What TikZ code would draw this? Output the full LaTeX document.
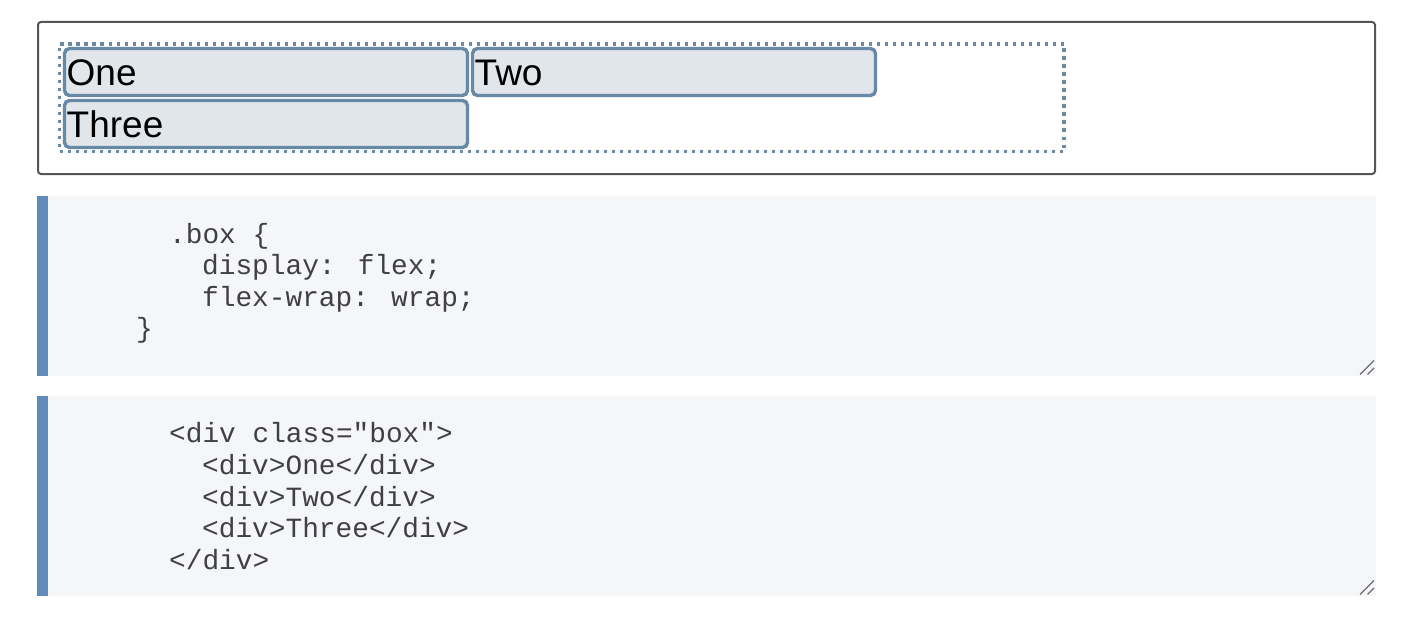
\documentclass[tikz,border=0pt]{standalone}
\usepackage{fontspec}
\setmainfont{Liberation Sans}
\newfontfamily\codefont{Liberation Mono}
\definecolor{outerline}{RGB}{85,85,88}
\definecolor{dotline}{RGB}{107,138,165}
\definecolor{itemline}{RGB}{104,137,166}
\definecolor{itemfill}{RGB}{225,230,235}
\definecolor{codebg}{RGB}{245,246,248}
\definecolor{codebar}{RGB}{97,139,187}
\definecolor{codetext}{RGB}{64,64,66}
\definecolor{gripcol}{RGB}{110,110,112}
\tikzset{
  outerbox/.style={draw=outerline, line width=2pt, rounded corners=3pt, inner sep=0pt, outer sep=0pt, anchor=north west},
  flexbox/.style={draw=dotline, line width=3.5pt, dash pattern=on 3.5pt off 4.5pt, inner sep=0pt, outer sep=0pt, anchor=north west},
  itembox/.style={draw=itemline, fill=itemfill, line width=3.4pt, rounded corners=5pt, inner sep=0pt, outer sep=0pt, anchor=north west, minimum width=403pt, minimum height=47pt},
  itemtext/.style={inner sep=0pt, anchor=base west, font=\fontsize{37}{37}\selectfont, text=black},
  codebox/.style={fill=codebg, inner sep=0pt, outer sep=0pt, anchor=north west, minimum width=1339pt},
  barbox/.style={fill=codebar, inner sep=0pt, outer sep=0pt, anchor=north west, minimum width=11pt},
  codeline/.style={inner sep=0pt, anchor=base west, font=\codefont\fontsize{27.8}{27.8}\selectfont, text=codetext},
  grip/.style={draw=gripcol, line width=1.3pt}
}
\begin{document}
\begin{tikzpicture}[x=1pt,y=-1pt]
\useasboundingbox (0,0) rectangle (1408,626);
\fill[white] (0,0) rectangle (1408,626);

% rendered flex box
\node[outerbox, minimum width=1337pt, minimum height=152pt] (outer) at (38,22) {};
\node[flexbox, minimum width=1004.5pt, minimum height=107.5pt] (flex) at (59.5,44) {};
\node[itembox] (one) at (64.5,48.5) {};
\node[itembox] (two) at (472.5,48.5) {};
\node[itembox] (three) at (64.5,100.5) {};
\node[itemtext] (onet) at (66.5,85) {One};
\node[itemtext] (twot) at (474.5,85) {Two};
\node[itemtext] (threet) at (66.5,137) {Three};

% CSS code block
\node[codebox, minimum height=180pt] (css) at (37,196) {};
\node[barbox, minimum height=180pt] (cssbar) at (37,196) {};
\node[codeline] (c1) at (169,243) {.box \{};
\node[codeline] (c2) at (202,274.5) {display: flex;};
\node[codeline] (c3) at (202,306) {flex-wrap: wrap;};
\node[codeline] (c4) at (136,337.5) {\}};
\draw[grip] (1360,374.5) -- (1374,360.5);
\draw[grip] (1367.5,374.5) -- (1374,368);

% HTML code block
\node[codebox, minimum height=200pt] (html) at (37,396) {};
\node[barbox, minimum height=200pt] (htmlbar) at (37,396) {};
\node[codeline] (h1) at (169,442.5) {<div class="box">};
\node[codeline] (h2) at (202,474.5) {<div>One</div>};
\node[codeline] (h3) at (202,506) {<div>Two</div>};
\node[codeline] (h4) at (202,537.5) {<div>Three</div>};
\node[codeline] (h5) at (169,569) {</div>};
\draw[grip] (1360,594.5) -- (1374,580.5);
\draw[grip] (1367.5,594.5) -- (1374,588);
\end{tikzpicture}
\end{document}
